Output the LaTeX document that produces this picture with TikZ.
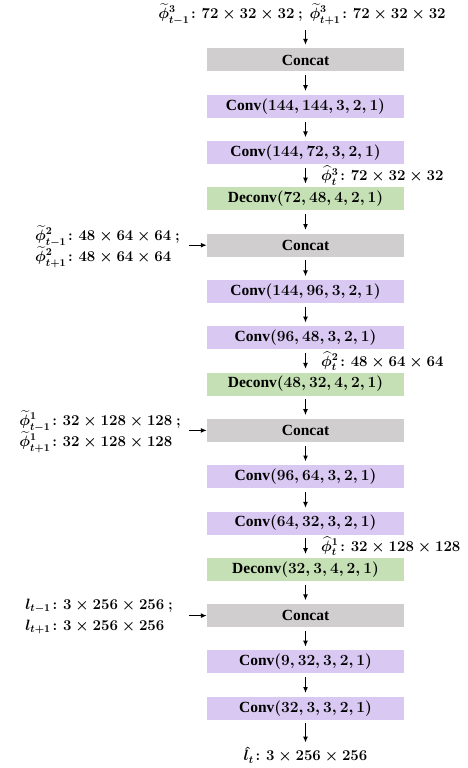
\RequirePackage{fix-cm}
\documentclass[tikz,border=0pt]{standalone}
\usepackage{amsmath,amssymb,bm}
\usepackage[no-math]{fontspec}
\setmainfont{Liberation Serif}
\usetikzlibrary{arrows.meta}
\definecolor{cgray}{RGB}{208,206,206}
\definecolor{cpurple}{RGB}{216,200,242}
\definecolor{cgreen}{RGB}{197,224,180}
\tikzset{
  box/.style={minimum width=197pt, minimum height=23pt, inner sep=0pt,
    font=\fontsize{15.5}{18}\selectfont\bfseries\boldmath},
  concatbox/.style={box, fill=cgray},
  convbox/.style={box, fill=cpurple},
  deconvbox/.style={box, fill=cgreen},
  lbl/.style={inner sep=0pt, font=\fontsize{15}{21}\selectfont\bfseries\boldmath},
  arr/.style={-{Latex[length=6pt,width=5pt]}, line width=1.3pt, shorten <=3.5pt, shorten >=3.5pt},
}
\begin{document}
\begin{tikzpicture}[x=1pt,y=-1pt]
\useasboundingbox (0,0) rectangle (468,768);
\def\cx{305.5}
% boxes
\node[concatbox] (c1) at (\cx,60.0)  {Concat};
\node[convbox]   (v1) at (\cx,106.3) {Conv$(144, 144, 3, 2, 1)$};
\node[convbox]   (v2) at (\cx,152.6) {Conv$(144, 72, 3, 2, 1)$};
\node[deconvbox] (d1) at (\cx,198.9) {Deconv$(72, 48, 4, 2, 1)$};
\node[concatbox] (c2) at (\cx,245.2) {Concat};
\node[convbox]   (v3) at (\cx,291.5) {Conv$(144, 96, 3, 2, 1)$};
\node[convbox]   (v4) at (\cx,337.8) {Conv$(96, 48, 3, 2, 1)$};
\node[deconvbox] (d2) at (\cx,384.1) {Deconv$(48, 32, 4, 2, 1)$};
\node[concatbox] (c3) at (\cx,430.4) {Concat};
\node[convbox]   (v5) at (\cx,476.7) {Conv$(96, 64, 3, 2, 1)$};
\node[convbox]   (v6) at (\cx,523.0) {Conv$(64, 32, 3, 2, 1)$};
\node[deconvbox] (d3) at (\cx,569.3) {Deconv$(32, 3, 4, 2, 1)$};
\node[concatbox] (c4) at (\cx,615.6) {Concat};
\node[convbox]   (v7) at (\cx,661.9) {Conv$(9, 32, 3, 2, 1)$};
\node[convbox]   (v8) at (\cx,708.2) {Conv$(32, 3, 3, 2, 1)$};
% labels
\node[lbl] (in3) at (302,14) {$\widetilde{\phi}^{3}_{t-1}\colon 72\times32\times32\ ;\ \widetilde{\phi}^{3}_{t+1}\colon 72\times32\times32$};
\node[lbl, anchor=west] (h3) at (321,175.8) {$\widehat{\phi}^{3}_{t}\colon 72\times32\times32$};
\node[lbl, anchor=west] (h2) at (321,361.0) {$\widehat{\phi}^{2}_{t}\colon 48\times64\times64$};
\node[lbl, anchor=west] (h1) at (321,546.2) {$\widehat{\phi}^{1}_{t}\colon 32\times128\times128$};
\node[lbl, anchor=east, align=left] (in2) at (180,246.5) {$\widetilde{\phi}^{2}_{t-1}\colon 48\times64\times64\ ;$\\$\widetilde{\phi}^{2}_{t+1}\colon 48\times64\times64$};
\node[lbl, anchor=east, align=left] (in1) at (181,431.5) {$\widetilde{\phi}^{1}_{t-1}\colon 32\times128\times128\ ;$\\$\widetilde{\phi}^{1}_{t+1}\colon 32\times128\times128$};
\node[lbl, anchor=east, align=left] (in0) at (173,616.5) {$l_{t-1}\colon 3\times256\times256\ ;$\\$l_{t+1}\colon 3\times256\times256$};
\node[lbl] (out) at (\cx,755) {$\hat{l}_{t}\colon 3\times256\times256$};
% arrows
\draw[arr, shorten <=5pt] (in3.south -| c1.north) -- (c1.north);
\foreach \a/\b in {c1/v1, v1/v2, v2/d1, d1/c2, c2/v3, v3/v4, v4/d2, d2/c3, c3/v5, v5/v6, v6/d3, d3/c4, c4/v7, v7/v8}
  \draw[arr] (\a) -- (\b);
\draw[arr, shorten >=4pt] (v8) -- (out);
\draw[arr, shorten <=9pt, shorten >=0pt] (in2.east |- c2) -- (c2.west);
\draw[arr, shorten <=8pt, shorten >=0pt] (in1.east |- c3) -- (c3.west);
\draw[arr, shorten <=16pt, shorten >=0pt] (in0.east |- c4) -- (c4.west);
\end{tikzpicture}
\end{document}
